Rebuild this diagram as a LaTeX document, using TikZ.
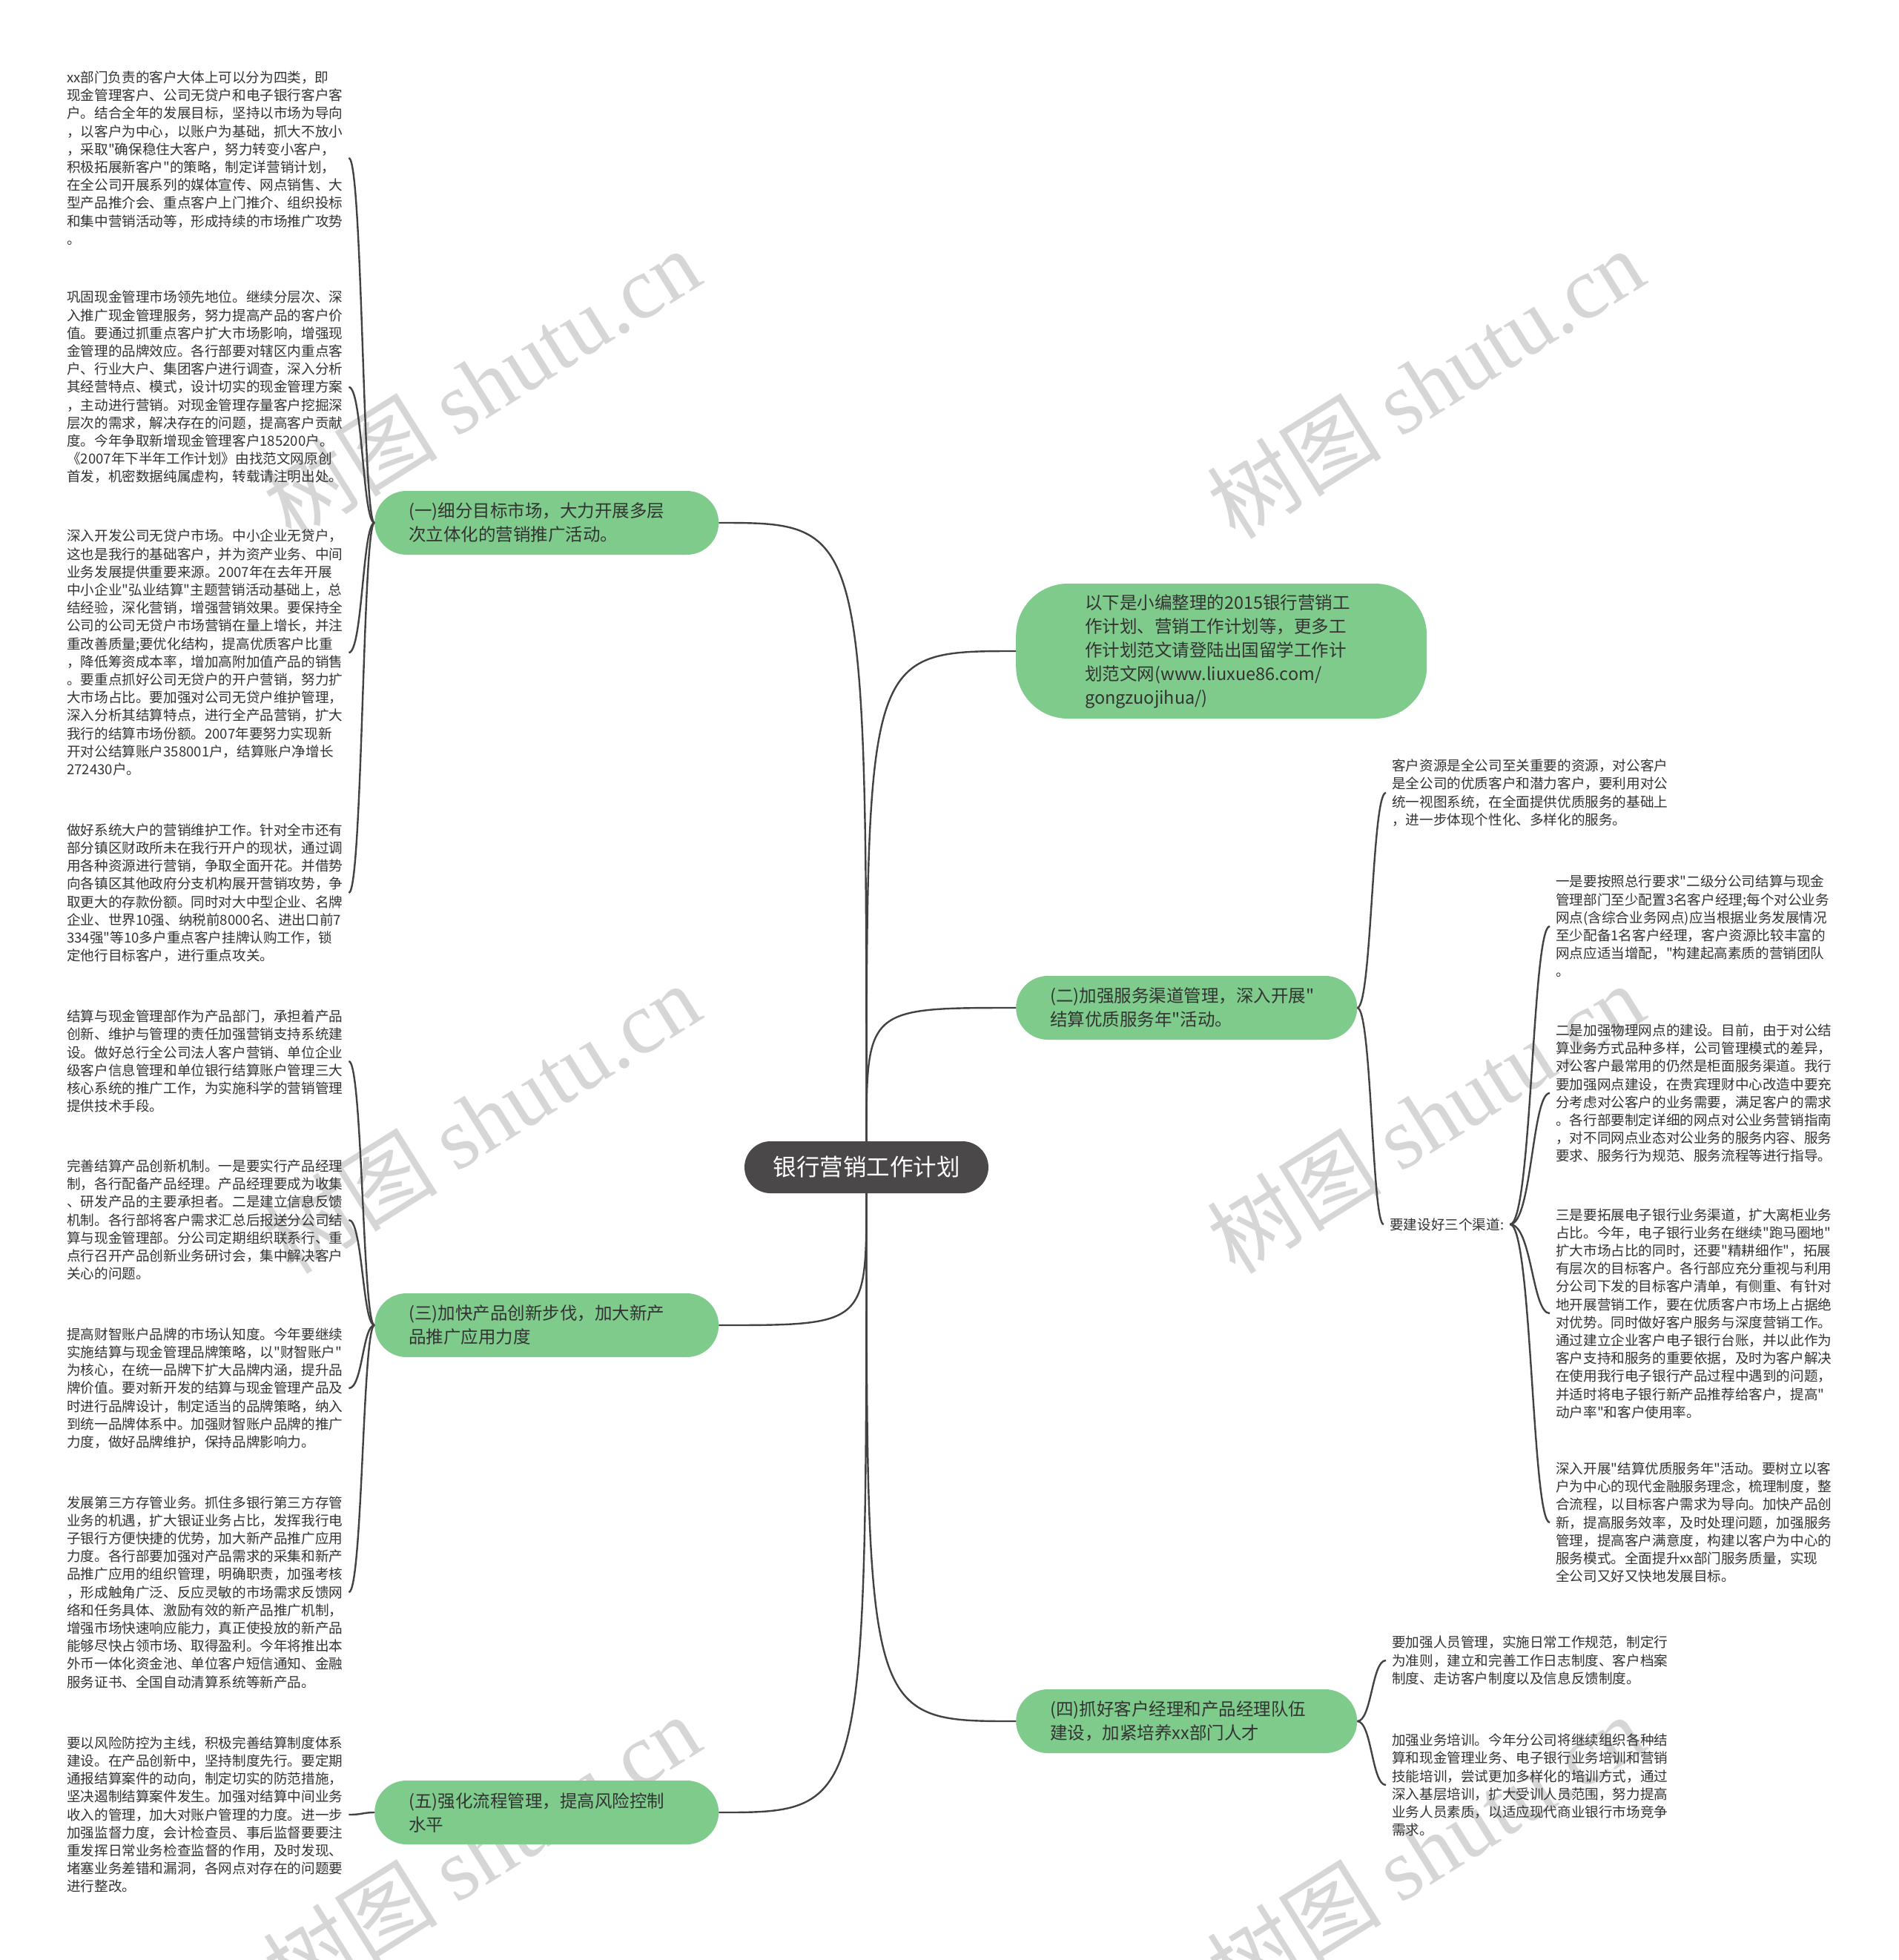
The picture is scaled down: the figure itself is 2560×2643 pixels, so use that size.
\documentclass[tikz,border=0pt]{standalone}
\usepackage{fontspec}
\setmainfont{Noto Sans CJK SC}[Ligatures=TeXOff]
\newfontfamily\markfont{Liberation Serif}
\usepackage{xcolor}
\definecolor{inkgray}{RGB}{51,51,51}
\definecolor{leafgreen}{RGB}{127,203,140}
\definecolor{rootgray}{RGB}{74,72,72}
\definecolor{wiregray}{RGB}{66,66,66}
\definecolor{markgray}{RGB}{214,214,214}
\tikzset{
  leaf/.style={inner xsep=8pt,inner ysep=0pt,align=left,text=inkgray,font=\fontsize{18.6}{24.2}\selectfont},
  branch/.style={fill=leafgreen,rounded corners=43pt,minimum height=86pt,inner xsep=46pt,text width=372pt,align=left,text=inkgray,font=\fontsize{23.5}{32}\selectfont},
  root/.style={fill=rootgray,rounded corners=35pt,minimum width=329pt,minimum height=70pt,text=white,font=\fontsize{31.5}{36}\selectfont},
  link/.style={draw=wiregray,line width=2.4pt},
  wmark/.style={text=markgray,rotate=32,font=\fontsize{118}{120}\selectfont}
}
\begin{document}
\begin{tikzpicture}[x=1pt,y=-1pt]
\fill[white] (0,0) rectangle (2560,2643);
\useasboundingbox (0,0) rectangle (2560,2643);
% watermarks
\foreach \wx/\wy [count=\i] in {649/517,1922/517,649/1508,1922/1508,649/2494,1922/2494}
  \node[wmark] (mark\i) at (\wx,\wy) {树图 {\markfont shutu.cn}};

\node[root] (root) at (1168.5,1574) {银行营销工作计划};

% branches
\node[branch,anchor=west] (b1) at (505,705) {(一)细分目标市场，大力开展多层\\次立体化的营销推广活动。};
\node[branch,anchor=west,text width=368pt,inner xsep=93pt,minimum height=182pt,rounded corners=70pt] (intro) at (1370,878) {以下是小编整理的2015银行营销工\\作计划、营销工作计划等，更多工\\作计划范文请登陆出国留学工作计\\划范文网(www.liuxue86.com/\\gongzuojihua/)};
\node[branch,anchor=west,text width=368pt] (b2) at (1370,1359) {(二)加强服务渠道管理，深入开展"\\结算优质服务年"活动。};
\node[branch,anchor=west] (b3) at (505,1787) {(三)加快产品创新步伐，加大新产\\品推广应用力度};
\node[branch,anchor=west,text width=368pt] (b4) at (1370,2321) {(四)抓好客户经理和产品经理队伍\\建设，加紧培养xx部门人才};
\node[branch,anchor=west] (b5) at (505,2444) {(五)强化流程管理，提高风险控制\\水平};

% left leaves
\node[leaf,anchor=west] (l1) at (82,213) {xx部门负责的客户大体上可以分为四类，即\\现金管理客户、公司无贷户和电子银行客户客\\户。结合全年的发展目标，坚持以市场为导向\\，以客户为中心，以账户为基础，抓大不放小\\，采取"确保稳住大客户，努力转变小客户，\\积极拓展新客户"的策略，制定详营销计划，\\在全公司开展系列的媒体宣传、网点销售、大\\型产品推介会、重点客户上门推介、组织投标\\和集中营销活动等，形成持续的市场推广攻势\\。};
\node[leaf,anchor=west] (l2) at (82,522) {巩固现金管理市场领先地位。继续分层次、深\\入推广现金管理服务，努力提高产品的客户价\\值。要通过抓重点客户扩大市场影响，增强现\\金管理的品牌效应。各行部要对辖区内重点客\\户、行业大户、集团客户进行调查，深入分析\\其经营特点、模式，设计切实的现金管理方案\\，主动进行营销。对现金管理存量客户挖掘深\\层次的需求，解决存在的问题，提高客户贡献\\度。今年争取新增现金管理客户185200户。\\《2007年下半年工作计划》由找范文网原创\\首发，机密数据纯属虚构，转载请注明出处。};
\node[leaf,anchor=west] (l3) at (82,880) {深入开发公司无贷户市场。中小企业无贷户，\\这也是我行的基础客户，并为资产业务、中间\\业务发展提供重要来源。2007年在去年开展\\中小企业"弘业结算"主题营销活动基础上，总\\结经验，深化营销，增强营销效果。要保持全\\公司的公司无贷户市场营销在量上增长，并注\\重改善质量;要优化结构，提高优质客户比重\\，降低筹资成本率，增加高附加值产品的销售\\。要重点抓好公司无贷户的开户营销，努力扩\\大市场占比。要加强对公司无贷户维护管理，\\深入分析其结算特点，进行全产品营销，扩大\\我行的结算市场份额。2007年要努力实现新\\开对公结算账户358001户，结算账户净增长\\272430户。};
\node[leaf,anchor=west] (l4) at (82,1204) {做好系统大户的营销维护工作。针对全市还有\\部分镇区财政所未在我行开户的现状，通过调\\用各种资源进行营销，争取全面开花。并借势\\向各镇区其他政府分支机构展开营销攻势，争\\取更大的存款份额。同时对大中型企业、名牌\\企业、世界10强、纳税前8000名、进出口前7\\334强"等10多户重点客户挂牌认购工作，锁\\定他行目标客户，进行重点攻关。};
\node[leaf,anchor=west] (l5) at (82,1431) {结算与现金管理部作为产品部门，承担着产品\\创新、维护与管理的责任加强营销支持系统建\\设。做好总行全公司法人客户营销、单位企业\\级客户信息管理和单位银行结算账户管理三大\\核心系统的推广工作，为实施科学的营销管理\\提供技术手段。};
\node[leaf,anchor=west] (l6) at (82,1645) {完善结算产品创新机制。一是要实行产品经理\\制，各行配备产品经理。产品经理要成为收集\\、研发产品的主要承担者。二是建立信息反馈\\机制。各行部将客户需求汇总后报送分公司结\\算与现金管理部。分公司定期组织联系行、重\\点行召开产品创新业务研讨会，集中解决客户\\关心的问题。};
\node[leaf,anchor=west] (l7) at (82,1872) {提高财智账户品牌的市场认知度。今年要继续\\实施结算与现金管理品牌策略，以"财智账户"\\为核心，在统一品牌下扩大品牌内涵，提升品\\牌价值。要对新开发的结算与现金管理产品及\\时进行品牌设计，制定适当的品牌策略，纳入\\到统一品牌体系中。加强财智账户品牌的推广\\力度，做好品牌维护，保持品牌影响力。};
\node[leaf,anchor=west] (l8) at (82,2147) {发展第三方存管业务。抓住多银行第三方存管\\业务的机遇，扩大银证业务占比，发挥我行电\\子银行方便快捷的优势，加大新产品推广应用\\力度。各行部要加强对产品需求的采集和新产\\品推广应用的组织管理，明确职责，加强考核\\，形成触角广泛、反应灵敏的市场需求反馈网\\络和任务具体、激励有效的新产品推广机制，\\增强市场快速响应能力，真正使投放的新产品\\能够尽快占领市场、取得盈利。今年将推出本\\外币一体化资金池、单位客户短信通知、金融\\服务证书、全国自动清算系统等新产品。};
\node[leaf,anchor=west] (l9) at (82,2447) {要以风险防控为主线，积极完善结算制度体系\\建设。在产品创新中，坚持制度先行。要定期\\通报结算案件的动向，制定切实的防范措施，\\坚决遏制结算案件发生。加强对结算中间业务\\收入的管理，加大对账户管理的力度。进一步\\加强监督力度，会计检查员、事后监督要要注\\重发挥日常业务检查监督的作用，及时发现、\\堵塞业务差错和漏洞，各网点对存在的问题要\\进行整改。};

% right leaves
\node[leaf,anchor=west] (r1) at (1869,1069) {客户资源是全公司至关重要的资源，对公客户\\是全公司的优质客户和潜力客户，要利用对公\\统一视图系统，在全面提供优质服务的基础上\\，进一步体现个性化、多样化的服务。};
\node[leaf,anchor=west] (chan) at (1866,1651) {要建设好三个渠道:};
\node[leaf,anchor=west] (r2) at (2090,1249) {一是要按照总行要求"二级分公司结算与现金\\管理部门至少配置3名客户经理;每个对公业务\\网点(含综合业务网点)应当根据业务发展情况\\至少配备1名客户经理，客户资源比较丰富的\\网点应适当增配，"构建起高素质的营销团队\\。};
\node[leaf,anchor=west] (r3) at (2090,1474) {二是加强物理网点的建设。目前，由于对公结\\算业务方式品种多样，公司管理模式的差异，\\对公客户最常用的仍然是柜面服务渠道。我行\\要加强网点建设，在贵宾理财中心改造中要充\\分考虑对公客户的业务需要，满足客户的需求\\。各行部要制定详细的网点对公业务营销指南\\，对不同网点业态对公业务的服务内容、服务\\要求、服务行为规范、服务流程等进行指导。};
\node[leaf,anchor=west] (r4) at (2090,1771) {三是要拓展电子银行业务渠道，扩大离柜业务\\占比。今年，电子银行业务在继续"跑马圈地"\\扩大市场占比的同时，还要"精耕细作"，拓展\\有层次的目标客户。各行部应充分重视与利用\\分公司下发的目标客户清单，有侧重、有针对\\地开展营销工作，要在优质客户市场上占据绝\\对优势。同时做好客户服务与深度营销工作。\\通过建立企业客户电子银行台账，并以此作为\\客户支持和服务的重要依据，及时为客户解决\\在使用我行电子银行产品过程中遇到的问题，\\并适时将电子银行新产品推荐给客户，提高"\\动户率"和客户使用率。};
\node[leaf,anchor=west] (r5) at (2090,2053) {深入开展"结算优质服务年"活动。要树立以客\\户为中心的现代金融服务理念，梳理制度，整\\合流程，以目标客户需求为导向。加快产品创\\新，提高服务效率，及时处理问题，加强服务\\管理，提高客户满意度，构建以客户为中心的\\服务模式。全面提升xx部门服务质量，实现\\全公司又好又快地发展目标。};
\node[leaf,anchor=west] (r6) at (1869,2239) {要加强人员管理，实施日常工作规范，制定行\\为准则，建立和完善工作日志制度、客户档案\\制度、走访客户制度以及信息反馈制度。};
\node[leaf,anchor=west] (r7) at (1869,2407) {加强业务培训。今年分公司将继续组织各种结\\算和现金管理业务、电子银行业务培训和营销\\技能培训，尝试更加多样化的培训方式，通过\\深入基层培训，扩大受训人员范围，努力提高\\业务人员素质，以适应现代商业银行市场竞争\\需求。};

% spines
\coordinate (sl) at (489,0);
\coordinate (sr) at (1850,0);
\coordinate (sc) at (2066,0);

% root to branches
\draw[link] (root.north) .. controls (root.north |- b1.east) .. (b1.east);
\draw[link] (root.north) .. controls (root.north |- intro.west) .. (intro.west);
\draw[link] (root.north) .. controls (root.north |- b2.west) .. (b2.west);
\draw[link] (root.south) .. controls (root.south |- b3.east) .. (b3.east);
\draw[link] (root.south) .. controls (root.south |- b4.west) .. (b4.west);
\draw[link] (root.south) .. controls (root.south |- b5.east) .. (b5.east);

% branches to leaves
\foreach \p/\l in {b1/l1,b1/l2,b1/l3,b1/l4,b3/l5,b3/l6,b3/l7,b3/l8,b5/l9}
  \draw[link] (\p.west) .. controls (sl |- \p.west) and (sl |- \l.east) .. (\l.east);
\foreach \p/\l in {b2/r1,b2/chan,b4/r6,b4/r7}
  \draw[link] (\p.east) .. controls (sr |- \p.east) and (sr |- \l.west) .. (\l.west);
\foreach \l in {r2,r3,r4,r5}
  \draw[link] (chan.east) .. controls (sc |- chan.east) and (sc |- \l.west) .. (\l.west);
\end{tikzpicture}
\end{document}
